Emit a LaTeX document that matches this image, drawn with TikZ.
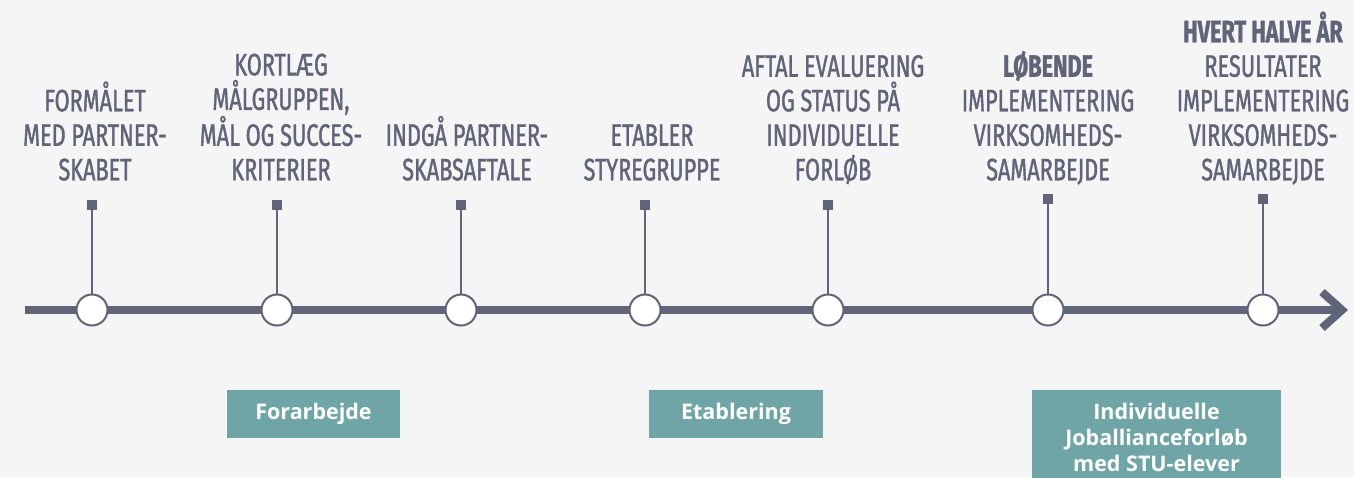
\documentclass[tikz,border=0pt]{standalone}
\usepackage{fontspec}
\newfontfamily\headfont[FakeStretch=0.70,FakeBold=1.2]{Fira Sans}
\newfontfamily\boxfont{Open Sans}
\usetikzlibrary{calc}
\definecolor{slate}{HTML}{5F6479}
\definecolor{tealbox}{HTML}{6FA5A6}
\definecolor{bg}{HTML}{F5F5F5}
\begin{document}
\begin{tikzpicture}[x=1pt,y=-1pt,
  lbl/.style={font=\headfont\fontsize{31}{34.5}\selectfont, text=slate, align=center, anchor=south, inner sep=0pt, text depth=0pt},
  sqmark/.style={fill=slate, minimum size=10pt, inner sep=0pt},
  dot/.style={circle, draw=slate, line width=2pt, fill=white, minimum size=31pt, inner sep=0pt},
  stem/.style={draw=slate, line width=2pt},
  axis/.style={draw=slate, line width=8pt},
  phase/.style={fill=tealbox, text=white, font=\boxfont\bfseries\fontsize{21.5}{26}\selectfont, align=center, inner sep=0pt}]
\fill[bg] (0,0) rectangle (1354,477);
\clip (0,0) rectangle (1354,477);
\useasboundingbox (0,0) rectangle (1354,477);
% timeline
\coordinate (tstart) at (25,310);
\coordinate (tend) at (1342,310);
\draw[axis] (tstart) -- (tend);
\draw[axis, miter limit=10] ($(tend)+(-20,-18)$) -- (tend) -- ($(tend)+(-20,18)$);
% squares
\foreach \i/\x/\y in {1/92/205,2/277/205,3/461/205,4/645/205,5/828/205,6/1048/199,7/1263/199}
  \node[sqmark] (s\i) at (\x,\y) {};
% circles
\foreach \i/\x in {1/92,2/277,3/461,4/645,5/828,6/1048,7/1263}
  \node[dot] (c\i) at (\x,310) {};
\foreach \i in {1,...,7}
  \draw[stem] (s\i) -- (c\i);
% labels
\node[lbl] (l1) at (95,180.5) {FORMÅLET\\MED PARTNER-\\SKABET};
\node[lbl] (l2) at (281,180.5) {KORTLÆG\\MÅLGRUPPEN,\\MÅL OG SUCCES-\\KRITERIER};
\node[lbl] (l3) at (467,180.5) {INDGÅ PARTNER-\\SKABSAFTALE};
\node[lbl] (l4) at (652,180.5) {ETABLER\\STYREGRUPPE};
\node[lbl] (l5) at (833,180.5) {AFTAL EVALUERING\\OG STATUS PÅ\\INDIVIDUELLE\\FORLØB};
\node[lbl] (l6) at (1048,180.5) {\bfseries LØBENDE\\IMPLEMENTERING\\VIRKSOMHEDS-\\SAMARBEJDE};
\node[lbl] (l7) at (1263,180.5) {\bfseries HVERT HALVE ÅR\\RESULTATER\\IMPLEMENTERING\\VIRKSOMHEDS-\\SAMARBEJDE};
% phase boxes
\node[phase, minimum width=173pt, minimum height=48pt] (b1) at (313.5,414) {Forarbejde};
\node[phase, minimum width=174pt, minimum height=48pt] (b2) at (736,414) {Etablering};
\node[phase, minimum width=249pt, minimum height=95pt] (b3) at (1156.5,437.5) {Individuelle\\Joballianceforløb\\med STU-elever};
\end{tikzpicture}
\end{document}
